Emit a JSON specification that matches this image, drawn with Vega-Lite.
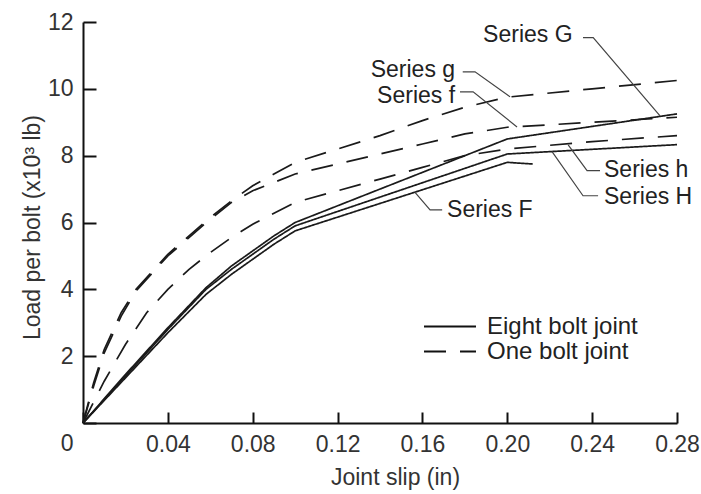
{
  "$schema": "https://vega.github.io/schema/vega-lite/v6.json",
  "width": 594,
  "height": 401,
  "autosize": {"type": "none"},
  "padding": {"left": 83, "top": 22, "right": 24, "bottom": 71},
  "background": "white",
  "config": {"view": {"stroke": null}, "font": "Liberation Sans"},
  "datasets": {
    "curves": [
      {"series": "G", "joint": "Eight bolt joint", "x": 0, "y": 0},
      {"series": "G", "joint": "Eight bolt joint", "x": 0.02, "y": 1.45},
      {"series": "G", "joint": "Eight bolt joint", "x": 0.04, "y": 2.85},
      {"series": "G", "joint": "Eight bolt joint", "x": 0.058, "y": 4.05},
      {"series": "G", "joint": "Eight bolt joint", "x": 0.07, "y": 4.7},
      {"series": "G", "joint": "Eight bolt joint", "x": 0.08, "y": 5.15},
      {"series": "G", "joint": "Eight bolt joint", "x": 0.09, "y": 5.6},
      {"series": "G", "joint": "Eight bolt joint", "x": 0.1, "y": 6.0},
      {"series": "G", "joint": "Eight bolt joint", "x": 0.2, "y": 8.5},
      {"series": "G", "joint": "Eight bolt joint", "x": 0.28, "y": 9.25},
      {"series": "H", "joint": "Eight bolt joint", "x": 0, "y": 0},
      {"series": "H", "joint": "Eight bolt joint", "x": 0.02, "y": 1.4},
      {"series": "H", "joint": "Eight bolt joint", "x": 0.04, "y": 2.8},
      {"series": "H", "joint": "Eight bolt joint", "x": 0.058, "y": 4.0},
      {"series": "H", "joint": "Eight bolt joint", "x": 0.07, "y": 4.6},
      {"series": "H", "joint": "Eight bolt joint", "x": 0.08, "y": 5.05},
      {"series": "H", "joint": "Eight bolt joint", "x": 0.09, "y": 5.5},
      {"series": "H", "joint": "Eight bolt joint", "x": 0.1, "y": 5.9},
      {"series": "H", "joint": "Eight bolt joint", "x": 0.2, "y": 8.05},
      {"series": "H", "joint": "Eight bolt joint", "x": 0.28, "y": 8.33},
      {"series": "F", "joint": "Eight bolt joint", "x": 0, "y": 0},
      {"series": "F", "joint": "Eight bolt joint", "x": 0.02, "y": 1.35},
      {"series": "F", "joint": "Eight bolt joint", "x": 0.04, "y": 2.7},
      {"series": "F", "joint": "Eight bolt joint", "x": 0.058, "y": 3.85},
      {"series": "F", "joint": "Eight bolt joint", "x": 0.07, "y": 4.45},
      {"series": "F", "joint": "Eight bolt joint", "x": 0.08, "y": 4.9},
      {"series": "F", "joint": "Eight bolt joint", "x": 0.09, "y": 5.35},
      {"series": "F", "joint": "Eight bolt joint", "x": 0.1, "y": 5.75},
      {"series": "F", "joint": "Eight bolt joint", "x": 0.2, "y": 7.8},
      {"series": "F", "joint": "Eight bolt joint", "x": 0.212, "y": 7.75},
      {"series": "g", "joint": "One bolt joint", "x": 0, "y": 0},
      {"series": "g", "joint": "One bolt joint", "x": 0.005, "y": 1.2},
      {"series": "g", "joint": "One bolt joint", "x": 0.01, "y": 2.2},
      {"series": "g", "joint": "One bolt joint", "x": 0.018, "y": 3.3},
      {"series": "g", "joint": "One bolt joint", "x": 0.025, "y": 4.0},
      {"series": "g", "joint": "One bolt joint", "x": 0.04, "y": 5.05},
      {"series": "g", "joint": "One bolt joint", "x": 0.06, "y": 6.15},
      {"series": "g", "joint": "One bolt joint", "x": 0.07, "y": 6.65},
      {"series": "g", "joint": "One bolt joint", "x": 0.08, "y": 7.1},
      {"series": "g", "joint": "One bolt joint", "x": 0.09, "y": 7.45},
      {"series": "g", "joint": "One bolt joint", "x": 0.1, "y": 7.8},
      {"series": "g", "joint": "One bolt joint", "x": 0.12, "y": 8.2},
      {"series": "g", "joint": "One bolt joint", "x": 0.14, "y": 8.6},
      {"series": "g", "joint": "One bolt joint", "x": 0.16, "y": 9.05},
      {"series": "g", "joint": "One bolt joint", "x": 0.18, "y": 9.45},
      {"series": "g", "joint": "One bolt joint", "x": 0.2, "y": 9.75},
      {"series": "g", "joint": "One bolt joint", "x": 0.24, "y": 10.0},
      {"series": "g", "joint": "One bolt joint", "x": 0.28, "y": 10.25},
      {"series": "f", "joint": "One bolt joint", "x": 0, "y": 0},
      {"series": "f", "joint": "One bolt joint", "x": 0.005, "y": 1.1},
      {"series": "f", "joint": "One bolt joint", "x": 0.01, "y": 2.1},
      {"series": "f", "joint": "One bolt joint", "x": 0.018, "y": 3.2},
      {"series": "f", "joint": "One bolt joint", "x": 0.025, "y": 3.95},
      {"series": "f", "joint": "One bolt joint", "x": 0.04, "y": 5.0},
      {"series": "f", "joint": "One bolt joint", "x": 0.06, "y": 6.1},
      {"series": "f", "joint": "One bolt joint", "x": 0.07, "y": 6.6},
      {"series": "f", "joint": "One bolt joint", "x": 0.08, "y": 6.95},
      {"series": "f", "joint": "One bolt joint", "x": 0.09, "y": 7.2},
      {"series": "f", "joint": "One bolt joint", "x": 0.1, "y": 7.45},
      {"series": "f", "joint": "One bolt joint", "x": 0.12, "y": 7.75},
      {"series": "f", "joint": "One bolt joint", "x": 0.14, "y": 8.05},
      {"series": "f", "joint": "One bolt joint", "x": 0.16, "y": 8.35},
      {"series": "f", "joint": "One bolt joint", "x": 0.18, "y": 8.65},
      {"series": "f", "joint": "One bolt joint", "x": 0.2, "y": 8.85},
      {"series": "f", "joint": "One bolt joint", "x": 0.24, "y": 9.0},
      {"series": "f", "joint": "One bolt joint", "x": 0.28, "y": 9.15},
      {"series": "h", "joint": "One bolt joint", "x": 0, "y": 0},
      {"series": "h", "joint": "One bolt joint", "x": 0.01, "y": 1.25},
      {"series": "h", "joint": "One bolt joint", "x": 0.02, "y": 2.35},
      {"series": "h", "joint": "One bolt joint", "x": 0.03, "y": 3.3},
      {"series": "h", "joint": "One bolt joint", "x": 0.04, "y": 4.0},
      {"series": "h", "joint": "One bolt joint", "x": 0.05, "y": 4.6},
      {"series": "h", "joint": "One bolt joint", "x": 0.06, "y": 5.1},
      {"series": "h", "joint": "One bolt joint", "x": 0.07, "y": 5.55},
      {"series": "h", "joint": "One bolt joint", "x": 0.08, "y": 5.95},
      {"series": "h", "joint": "One bolt joint", "x": 0.1, "y": 6.6},
      {"series": "h", "joint": "One bolt joint", "x": 0.12, "y": 6.95},
      {"series": "h", "joint": "One bolt joint", "x": 0.14, "y": 7.3},
      {"series": "h", "joint": "One bolt joint", "x": 0.16, "y": 7.65},
      {"series": "h", "joint": "One bolt joint", "x": 0.18, "y": 8.0},
      {"series": "h", "joint": "One bolt joint", "x": 0.2, "y": 8.2},
      {"series": "h", "joint": "One bolt joint", "x": 0.24, "y": 8.42},
      {"series": "h", "joint": "One bolt joint", "x": 0.28, "y": 8.6}
    ],
    "leaders": [
      {"label": "Series G", "i": 1, "x": 0.2357, "y": 11.53},
      {"label": "Series G", "i": 2, "x": 0.2405, "y": 11.53},
      {"label": "Series G", "i": 3, "x": 0.272, "y": 9.19},
      {"label": "Series g", "i": 1, "x": 0.179, "y": 10.51},
      {"label": "Series g", "i": 2, "x": 0.1848, "y": 10.51},
      {"label": "Series g", "i": 3, "x": 0.2013, "y": 9.76},
      {"label": "Series f", "i": 1, "x": 0.1777, "y": 9.91},
      {"label": "Series f", "i": 2, "x": 0.1839, "y": 9.91},
      {"label": "Series f", "i": 3, "x": 0.2046, "y": 8.86},
      {"label": "Series h", "i": 1, "x": 0.2437, "y": 7.55},
      {"label": "Series h", "i": 2, "x": 0.2376, "y": 7.55},
      {"label": "Series h", "i": 3, "x": 0.2287, "y": 8.32},
      {"label": "Series H", "i": 1, "x": 0.2428, "y": 6.8},
      {"label": "Series H", "i": 2, "x": 0.2357, "y": 6.8},
      {"label": "Series H", "i": 3, "x": 0.2211, "y": 8.12},
      {"label": "Series F", "i": 1, "x": 0.1693, "y": 6.38},
      {"label": "Series F", "i": 2, "x": 0.1636, "y": 6.38},
      {"label": "Series F", "i": 3, "x": 0.1565, "y": 6.9}
    ],
    "labels": [
      {"label": "Series G", "side": "left", "x": 0.1886, "y": 11.6},
      {"label": "Series g", "side": "right", "x": 0.1754, "y": 10.55},
      {"label": "Series f", "side": "right", "x": 0.1754, "y": 9.8},
      {"label": "Series h", "side": "left", "x": 0.2456, "y": 7.57},
      {"label": "Series H", "side": "left", "x": 0.2456, "y": 6.76},
      {"label": "Series F", "side": "left", "x": 0.1716, "y": 6.38}
    ]
  },
  "layer": [
    {
      "data": {"name": "curves"},
      "mark": {"type": "line", "color": "#1a1a1a", "strokeWidth": 1.7},
      "encoding": {
        "x": {
          "field": "x", "type": "quantitative",
          "scale": {"domain": [0, 0.28], "nice": false},
          "axis": {
            "values": [0, 0.04, 0.08, 0.12, 0.16, 0.2, 0.24, 0.28],
            "labelExpr": "datum.value == 0 ? '' : format(datum.value, '.2f')",
            "title": "Joint slip (in)",
            "grid": false,
            "tickSize": -11, "tickWidth": 2, "tickColor": "#111",
            "domainColor": "#111", "domainWidth": 2,
            "labelFontSize": 23, "labelColor": "#333", "labelPadding": 21,
            "labelOverlap": false, "labelFlush": false, "labelBound": false,
            "titleFontSize": 23, "titleFontWeight": "normal", "titleColor": "#333",
            "titleX": 312, "titleY": 61, "titleBaseline": "alphabetic"
          }
        },
        "y": {
          "field": "y", "type": "quantitative",
          "scale": {"domain": [0, 12], "nice": false},
          "axis": {
            "values": [0, 2, 4, 6, 8, 10, 12],
            "title": "Load per bolt (x10³ lb)",
            "grid": false,
            "tickSize": -13, "tickWidth": 2, "tickColor": "#111",
            "domainColor": "#111", "domainWidth": 2,
            "labelFontSize": 23, "labelColor": "#333", "labelPadding": 23,
            "labelOverlap": false, "labelFlush": false, "labelBound": false,
            "labelOffset": {"condition": {"test": "datum.value == 0", "value": 20}, "value": 0},
            "titleFontSize": 23, "titleFontWeight": "normal", "titleColor": "#333",
            "titleX": -44, "titleY": 205, "titleBaseline": "alphabetic"
          }
        },
        "detail": {"field": "series", "type": "nominal"},
        "strokeDash": {
          "field": "joint", "type": "nominal",
          "scale": {"domain": ["Eight bolt joint", "One bolt joint"], "range": [[1, 0], [22, 14]]},
          "legend": {
            "title": null, "orient": "none", "legendX": 340, "legendY": 292,
            "symbolType": "stroke", "symbolSize": 2700, "symbolStrokeWidth": 2,
            "symbolStrokeColor": "#111", "labelFontSize": 24, "labelColor": "#222",
            "labelOffset": 10, "rowPadding": 0, "clipHeight": 25
          }
        }
      }
    },
    {
      "data": {"name": "leaders"},
      "mark": {"type": "line", "color": "#444", "strokeWidth": 1.2},
      "encoding": {
        "x": {"field": "x", "type": "quantitative"},
        "y": {"field": "y", "type": "quantitative"},
        "detail": {"field": "label", "type": "nominal"},
        "order": {"field": "i", "type": "quantitative"}
      }
    },
    {
      "data": {"name": "labels"},
      "transform": [{"filter": "datum.side == 'left'"}],
      "mark": {"type": "text", "align": "left", "baseline": "middle", "fontSize": 23, "color": "#222"},
      "encoding": {
        "x": {"field": "x", "type": "quantitative"},
        "y": {"field": "y", "type": "quantitative"},
        "text": {"field": "label"}
      }
    },
    {
      "data": {"name": "labels"},
      "transform": [{"filter": "datum.side == 'right'"}],
      "mark": {"type": "text", "align": "right", "baseline": "middle", "fontSize": 23, "color": "#222"},
      "encoding": {
        "x": {"field": "x", "type": "quantitative"},
        "y": {"field": "y", "type": "quantitative"},
        "text": {"field": "label"}
      }
    }
  ]
}
